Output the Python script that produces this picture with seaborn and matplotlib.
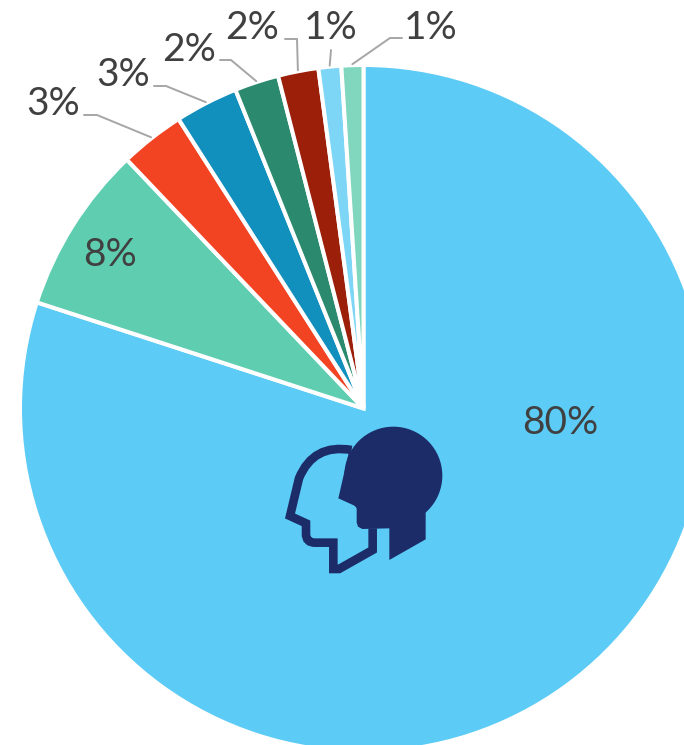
#!/usr/bin/env python3
# -*- coding: utf-8 -*-
import numpy as np
import seaborn as sns
import matplotlib.pyplot as plt
from matplotlib.path import Path
from matplotlib.patches import PathPatch, Circle, Polygon

# slices, clockwise from 12 o'clock
shares = [80.0, 7.9, 3.05, 2.97, 2.08, 1.9, 1.07, 1.03]
share_labels = ["80%", "8%", "3%", "3%", "2%", "2%", "1%", "1%"]

slice_colors = ["#5CCBF5", "#5ECDB0", "#F24423", "#118FBD",
                "#2B8A6E", "#9C1F0A", "#7DD6F6", "#80D7BE"]

W = 684
H = 745
CX = 363.5
CY = 408.5
R = 343.5

# label centre, then leader elbow (pixels from top left), None = no leader
label_pos = [(560, 423), (110, 255), (53, 104), (123, 75),
             (189, 50), (252, 28), (331, 28), (431, 28)]
leader_start = [None, None, (84, 115), (154, 86),
                (220, 60), (285, 39), (331, 50), (402, 38)]
leader_elbow = [None, None, (97, 115), (166, 86),
                (231, 60), (297, 39), None, (390, 38)]

sns.set_theme(style="white")
plt.rcParams["font.family"] = ["Lato", "DejaVu Sans"]


def py(y):
    return H - y


def icon_xy(zx, zy):
    # icon was measured in a 3x crop starting at (270, 410)
    return 270 + zx / 3, py(410 + zy / 3)


fig = plt.figure(figsize=(W / 100, H / 100), dpi=100)
ax = fig.add_axes([0, 0, 1, 1])

wedges, _ = ax.pie(shares,
                   colors=sns.color_palette(slice_colors),
                   startangle=90,
                   counterclock=False,
                   center=(CX, py(CY)),
                   radius=R,
                   wedgeprops={"edgecolor": "white", "linewidth": 2.9})

ax.set_xlim(0, W)
ax.set_ylim(0, H)
ax.set_aspect("equal")
ax.axis("off")

for i, w in enumerate(wedges):
    ax.text(label_pos[i][0], py(label_pos[i][1]), share_labels[i],
            ha="center", va="center", fontsize=28, color="#404040", zorder=5)
    if leader_start[i] is None:
        continue
    mid = np.deg2rad((w.theta1 + w.theta2) / 2)
    tip = (CX + (R + 1) * np.cos(mid), py(CY) + (R + 1) * np.sin(mid))
    pts = [leader_start[i]]
    if leader_elbow[i] is not None:
        pts.append(leader_elbow[i])
    xs = [p[0] for p in pts] + [tip[0]]
    ys = [py(p[1]) for p in pts] + [tip[1]]
    ax.plot(xs, ys, color="#A6A6A6", lw=1.4, solid_joinstyle="miter", zorder=4)

# two heads icon
navy = "#1B2C69"
ax.add_patch(Circle(icon_xy(370, 197), 147 / 3, color=navy, lw=0, zorder=6))
solid = [(237, 125), (205, 265), (260, 290), (260, 338), (264, 350), (277, 357),
         (358, 355), (358, 450), (467, 388), (467, 280), (370, 197)]
ax.add_patch(Polygon([icon_xy(*p) for p in solid], closed=True, color=navy,
                     lw=0, zorder=6))

verts = [(245, 120), (130, 100), (87, 205), (60, 318), (108, 340), (108, 372),
         (108, 398), (135, 398), (190, 398), (190, 477), (207, 477), (308, 420),
         (308, 355)]
codes = [Path.MOVETO, Path.CURVE3, Path.CURVE3, Path.LINETO, Path.LINETO, Path.LINETO,
         Path.CURVE3, Path.CURVE3, Path.LINETO, Path.LINETO, Path.LINETO, Path.LINETO,
         Path.LINETO]
ax.add_patch(PathPatch(Path([icon_xy(*p) for p in verts], codes), fc="none",
                       ec=navy, lw=6.2, joinstyle="miter", capstyle="butt", zorder=6))

plt.savefig("out.png", dpi=100)
